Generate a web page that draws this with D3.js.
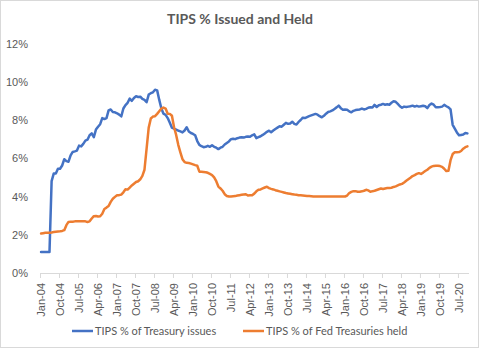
<!DOCTYPE html>
<html>
<head>
<meta charset="utf-8">
<script src="https://cdn.jsdelivr.net/npm/d3@7"></script>
<style>
  body { margin: 0; background: #fff; }
  svg { display: block; font-family: Lato, "Open Sans", sans-serif; }
</style>
</head>
<body>
<svg id="chart" width="480" height="349"></svg>
<script>
// Monthly categories, Jan 2004 through Nov 2020
const categories = d3.timeMonth.range(new Date(2004, 0, 1), new Date(2020, 11, 1));
const fmtMonth = d3.timeFormat("%b-%y");

// TIPS share of marketable Treasury issues outstanding (%)
const treasuryIssues = [
  1.1,1.1,1.1,1.1,1.1,4.8,5.2,5.2,5.45,5.45,5.62,5.95,
  5.85,5.82,6.15,6.33,6.36,6.4,6.66,6.62,6.75,6.92,6.97,7.2,
  7.3,7.1,7.5,7.65,7.78,8.1,8.05,8.1,8.5,8.55,8.42,8.4,
  8.35,8.28,8.19,8.6,8.78,8.9,9.12,9.0,9.15,9.24,9.2,9.22,
  9.1,9.05,8.93,9.33,9.4,9.45,9.58,9.55,9.05,8.6,8.33,8.27,
  8.1,7.85,7.6,7.55,7.5,7.45,7.4,7.35,7.45,7.62,7.4,7.32,
  7.27,7.2,6.9,6.7,6.63,6.58,6.6,6.65,6.6,6.68,6.6,6.55,
  6.48,6.55,6.6,6.72,6.8,6.88,7.0,7.02,7.0,7.05,7.08,7.1,
  7.08,7.12,7.14,7.12,7.2,7.25,7.05,7.1,7.15,7.22,7.3,7.38,
  7.44,7.36,7.45,7.53,7.6,7.67,7.65,7.75,7.85,7.8,7.82,7.91,
  7.8,7.76,7.9,8.0,8.12,8.1,8.15,8.2,8.24,8.28,8.32,8.28,
  8.2,8.14,8.22,8.33,8.42,8.45,8.5,8.58,8.66,8.75,8.62,8.54,
  8.55,8.54,8.45,8.4,8.48,8.52,8.54,8.55,8.6,8.55,8.58,8.64,
  8.67,8.65,8.79,8.68,8.77,8.8,8.84,8.8,8.82,8.8,8.9,8.98,
  8.95,8.84,8.72,8.64,8.7,8.68,8.7,8.72,8.75,8.7,8.74,8.7,
  8.72,8.74,8.72,8.62,8.78,8.86,8.8,8.67,8.67,8.68,8.7,8.79,
  8.72,8.66,8.55,7.75,7.55,7.35,7.2,7.22,7.24,7.32,7.3
];

// TIPS share of Treasuries held by the Fed (%)
const fedHeld = [
  2.06,2.08,2.1,2.1,2.11,2.12,2.14,2.16,2.17,2.18,2.2,2.24,
  2.5,2.67,2.68,2.68,2.7,2.7,2.71,2.7,2.71,2.7,2.67,2.7,
  2.85,2.97,2.98,2.95,2.97,3.1,3.35,3.42,3.5,3.72,3.88,3.98,
  4.07,4.07,4.1,4.22,4.38,4.36,4.47,4.58,4.67,4.76,4.8,4.9,
  5.08,5.4,6.5,7.6,8.08,8.18,8.2,8.32,8.46,8.6,8.65,8.6,
  8.33,8.32,8.22,7.62,7.22,6.7,6.31,5.95,5.8,5.76,5.75,5.72,
  5.68,5.64,5.61,5.3,5.29,5.28,5.27,5.24,5.18,5.12,5.0,4.8,
  4.52,4.42,4.3,4.12,4.03,4.0,4.0,4.01,4.02,4.05,4.07,4.09,
  4.11,4.12,4.05,4.06,4.07,4.15,4.27,4.35,4.37,4.42,4.47,4.51,
  4.44,4.4,4.37,4.33,4.3,4.27,4.24,4.21,4.18,4.16,4.14,4.12,
  4.1,4.09,4.07,4.06,4.05,4.04,4.03,4.02,4.01,4.0,4.0,4.0,
  4.0,4.0,4.0,4.0,4.0,4.0,4.0,4.0,4.0,4.0,4.0,4.0,
  4.0,4.05,4.18,4.24,4.28,4.28,4.25,4.25,4.27,4.3,4.35,4.32,
  4.25,4.28,4.3,4.34,4.38,4.42,4.39,4.42,4.44,4.45,4.46,4.5,
  4.53,4.58,4.63,4.66,4.73,4.82,4.9,4.98,5.07,5.12,5.18,5.22,
  5.18,5.25,5.33,5.4,5.5,5.56,5.6,5.61,5.61,5.59,5.55,5.45,
  5.33,5.35,5.9,6.22,6.31,6.31,6.32,6.38,6.5,6.58,6.62
];

const tickLabels = ["Jan-04","Oct-04","Jul-05","Apr-06","Jan-07","Oct-07","Jul-08","Apr-09",
  "Jan-10","Oct-10","Jul-11","Apr-12","Jan-13","Oct-13","Jul-14","Apr-15","Jan-16","Oct-16",
  "Jul-17","Apr-18","Jan-19","Oct-19","Jul-20"];
const yTicks = [0, 2, 4, 6, 8, 10, 12];

const seriesNames = ["TIPS % of Treasury issues", "TIPS % of Fed Treasuries held"];
const seriesColors = ["#4472C4", "#ED7D31"];

const svg = d3.select("#chart");
const W = 480, H = 349;
const plot = { left: 40, right: 468.5, top: 43.5, bottom: 273 };
const textColor = "#595959";

// chart area border
svg.append("rect")
  .attr("x", 0.5).attr("y", 0.5).attr("width", W - 2).attr("height", H - 2)
  .attr("fill", "#fff").attr("stroke", "#d9d9d9");

// title
svg.append("text")
  .attr("x", 240).attr("y", 24)
  .attr("text-anchor", "middle")
  .attr("font-size", 14).attr("font-weight", "bold")
  .attr("fill", textColor)
  .text("TIPS % Issued and Held");

const labels = categories.map(fmtMonth);
const x = d3.scaleBand().domain(labels).range([plot.left, plot.right]).padding(0);
const xc = d => x(d) + x.bandwidth() / 2;
const y = d3.scaleLinear().domain([0, 12]).range([plot.bottom, plot.top]);

// y axis labels (no axis line, no gridlines)
const yAxis = d3.axisLeft(y).tickValues(yTicks).tickFormat(d => d + "%").tickSize(0).tickPadding(0);
const gy = svg.append("g").attr("transform", `translate(28,0)`).call(yAxis);
gy.select(".domain").remove();
gy.selectAll("text").attr("fill", textColor).attr("font-size", 11).style("font-family", "inherit");

// x axis: ticks on category boundaries, labels on category centres
const xEdge = d3.scaleLinear().domain([0, categories.length]).range([plot.left, plot.right]);
const tickIdx = tickLabels.map(l => labels.indexOf(l));
const xAxis = d3.axisBottom(xEdge).tickValues(tickIdx).tickSize(5).tickSizeOuter(0)
  .tickFormat((d, i) => tickLabels[i]);
const gx = svg.append("g").attr("transform", `translate(0,${plot.bottom})`).call(xAxis);
gx.select(".domain").attr("stroke", "#d9d9d9");
gx.selectAll(".tick line").attr("stroke", "#d9d9d9");
gx.selectAll("text")
  .attr("fill", textColor).attr("font-size", 11).style("font-family", "inherit")
  .attr("transform", "rotate(-90)")
  .attr("x", -10).attr("y", x.bandwidth() / 2).attr("dy", "0.35em")
  .style("text-anchor", "end");

// lines
const line = d3.line().x((d, i) => xc(labels[i])).y(d => y(d));
[treasuryIssues, fedHeld].forEach((s, k) => {
  svg.append("path").datum(s)
    .attr("d", line)
    .attr("fill", "none")
    .attr("stroke", seriesColors[k])
    .attr("stroke-width", 2.5)
    .attr("stroke-linejoin", "round")
    .attr("stroke-linecap", "round");
});

// legend
const legendX = [72, 243];
const lg = svg.append("g");
seriesNames.forEach((n, k) => {
  lg.append("line")
    .attr("x1", legendX[k]).attr("x2", legendX[k] + 21)
    .attr("y1", 331).attr("y2", 331)
    .attr("stroke", seriesColors[k]).attr("stroke-width", 2.5);
  lg.append("text")
    .attr("x", legendX[k] + 23).attr("y", 331).attr("dy", "0.35em")
    .attr("font-size", 11).attr("fill", textColor)
    .text(n);
});
</script>
</body>
</html>
